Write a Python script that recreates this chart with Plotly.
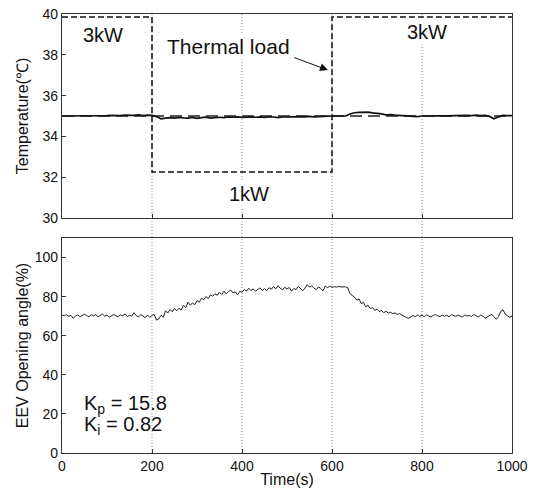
import plotly.graph_objects as go

# ---- data ----
time_temp = list(range(0, 1001, 10))
temperature = [
    35.0, 35.0, 35.01, 34.99, 35.0, 35.01, 35.0, 35.02, 35.01, 35.0,
    35.02, 35.03, 35.01, 35.02, 35.04, 35.02, 35.03, 35.05, 35.02, 35.04,
    35.03, 34.97, 34.86, 34.9, 34.92, 34.9, 34.93, 34.91, 34.9, 34.93,
    34.88, 34.92, 34.94, 34.9, 34.93, 34.94, 34.92, 34.95, 34.94, 34.96,
    34.93, 34.95, 34.96, 34.94, 34.96, 34.93, 34.96, 34.95, 34.92, 34.95,
    34.96, 34.97, 34.95, 34.97, 34.96, 34.98, 34.96, 34.98, 34.97, 34.99,
    35.0, 35.0, 35.01, 35.0, 35.1, 35.16, 35.18, 35.2, 35.19, 35.15,
    35.14, 35.1, 35.06, 35.07, 35.04, 35.03, 35.0, 34.98, 35.0, 34.97,
    35.0, 34.99, 35.0, 35.01, 35.0, 35.02, 35.01, 35.02, 35.03, 35.01,
    35.03, 35.02, 35.04, 35.02, 35.03, 34.98, 34.86, 34.96, 35.03, 35.02,
    35.02,
]
setpoint_time = [0, 1000]
setpoint = [35.0, 35.0]

load_time = [0, 200, 200, 600, 600, 1000]
load_level = [39.85, 39.85, 32.25, 32.25, 39.85, 39.85]

time_eev = list(range(0, 1001, 5))
eev_pct = [
    70.6, 70.2, 70.8, 69.9, 70.4, 68.9, 70.1, 70.7, 69.8, 70.5,
    71.0, 70.3, 69.6, 70.9, 70.2, 70.8, 69.7, 70.4, 71.1, 70.0,
    70.6, 69.5, 70.3, 70.9, 70.1, 69.8, 70.7, 70.2, 71.2, 69.9,
    70.5, 70.0, 71.8, 70.3, 69.6, 70.8, 70.1, 69.2, 70.6, 69.4,
    70.5,
    70.8, 68.0, 68.6, 70.5, 69.4, 72.8, 71.6, 73.5, 72.2, 73.9,
    72.8, 74.1, 73.2, 75.6, 74.3, 77.2, 75.6, 76.8, 75.9, 78.0,
    77.1, 79.2, 78.4, 80.1, 79.0, 80.8, 80.2, 81.5, 80.7, 82.3,
    81.1, 82.8, 81.4, 82.6, 83.4, 81.9, 82.5, 80.9, 82.7, 82.2,
    83.6, 82.9, 84.3, 83.1, 84.0, 82.8, 83.7, 84.5, 83.2, 84.1,
    83.0, 84.6, 83.8, 85.2, 84.0, 85.6, 84.3, 83.5, 84.8, 83.9,
    84.7, 82.8, 84.2, 83.6, 85.3, 84.1, 83.0, 84.4, 86.2, 84.9,
    85.5, 84.3, 83.6, 85.0, 84.2, 82.9, 85.4, 84.6, 85.3, 84.8,
    85.1, 84.9, 85.2, 85.0, 85.1, 85.0, 84.6, 81.5, 80.6, 79.8,
    78.2, 78.9, 76.4, 77.1, 74.8, 75.6, 73.9, 74.4, 73.0, 73.6,
    72.4, 72.9, 71.8, 72.5, 71.6, 72.0, 71.3, 71.7, 70.9, 71.4,
    70.6, 70.2, 69.4, 68.9, 69.8, 70.4, 69.7, 70.6, 69.9, 70.5,
    69.8, 70.7, 70.1, 69.6, 70.4, 70.9, 70.2, 69.8, 70.6, 70.0,
    70.5, 69.7, 70.8, 70.3, 69.9, 70.6, 70.2, 69.5, 70.7, 70.1,
    70.4, 69.8, 70.9, 70.2, 69.6, 70.5, 70.1, 68.9, 69.5, 70.4,
    71.0, 69.7, 68.4, 69.8, 72.4, 73.3, 71.0, 70.2, 69.4, 70.1,
]

x_ticks = [0, 200, 400, 600, 800, 1000]
temp_ticks = [30, 32, 34, 36, 38, 40]
eev_ticks = [0, 20, 40, 60, 80, 100]
grid_times = [200, 400, 600, 800]

FONT = "Liberation Sans, Arial, sans-serif"

fig = go.Figure()

fig.add_trace(go.Scatter(x=setpoint_time, y=setpoint, mode="lines",
                         line=dict(color="#222", width=1.4, dash="12px,6px"),
                         xaxis="x", yaxis="y", showlegend=False))
fig.add_trace(go.Scatter(x=time_temp, y=temperature, mode="lines",
                         line=dict(color="#111", width=1.7),
                         xaxis="x", yaxis="y", showlegend=False))
fig.add_trace(go.Scatter(x=load_time, y=load_level, mode="lines",
                         line=dict(color="#111", width=1.5, dash="6px,3px"),
                         xaxis="x", yaxis="y", showlegend=False))
fig.add_trace(go.Scatter(x=time_eev, y=eev_pct, mode="lines",
                         line=dict(color="#222", width=1),
                         xaxis="x2", yaxis="y2", showlegend=False))

shapes = []
for t in grid_times:
    shapes.append(dict(type="line", xref="x", yref="paper", x0=t, x1=t, y0=0, y1=1,
                       line=dict(color="#999", width=1, dash="1px,2px"), layer="below"))
fig.update_layout(shapes=shapes)

axis_common = dict(showline=True, linecolor="#333", linewidth=1.2, mirror=True,
                   ticks="inside", ticklen=4, tickcolor="#333", showgrid=False,
                   zeroline=False, automargin=False,
                   tickfont=dict(family=FONT, size=14, color="#111"))

fig.update_layout(
    width=535, height=489,
    margin=dict(l=62, r=23, t=14, b=36),
    paper_bgcolor="white", plot_bgcolor="white",
    font=dict(family=FONT, color="#111"),
    xaxis=dict(domain=[0, 1], range=[0, 1000], tickvals=x_ticks, showticklabels=False,
               anchor="y", **axis_common),
    yaxis=dict(domain=[0.5353, 1], range=[30, 40], tickvals=temp_ticks, anchor="x",
               title=dict(text="Temperature(℃)", font=dict(family=FONT, size=16), standoff=9),
               **axis_common),
    xaxis2=dict(domain=[0, 1], range=[0, 1000], tickvals=x_ticks, anchor="y2",
                title=dict(text="Time(s)", font=dict(family=FONT, size=16), standoff=0),
                **axis_common),
    yaxis2=dict(domain=[0, 0.4897], range=[0, 110], tickvals=eev_ticks, anchor="x2",
                title=dict(text="EEV Opening angle(%)", font=dict(family=FONT, size=16), standoff=2),
                **axis_common),
)

ann_font = dict(family=FONT, size=20, color="#111")
annotations = [
    dict(x=91, y=38.97, xref="x", yref="y", text="3kW", showarrow=False,
         font=ann_font, bgcolor="white"),
    dict(x=811, y=39.1, xref="x", yref="y", text="3kW", showarrow=False,
         font=ann_font, bgcolor="white"),
    dict(x=415, y=31.2, xref="x", yref="y", text="1kW", showarrow=False,
         font=ann_font, bgcolor="white"),
    dict(x=371, y=38.4, xref="x", yref="y", text="Thermal load", showarrow=False,
         font=dict(family=FONT, size=21, color="#111"), bgcolor="white"),
    dict(x=591, y=37.25, xref="x", yref="y", ax=513, ay=37.89, axref="x", ayref="y",
         text="", showarrow=True, arrowhead=2, arrowsize=1.6, arrowwidth=1,
         arrowcolor="#111"),
    dict(x=44, y=24.8, xref="x2", yref="y2", text="K<sub>p</sub> = 15.8", showarrow=False,
         xanchor="left", font=dict(family=FONT, size=20, color="#111")),
    dict(x=44, y=14.0, xref="x2", yref="y2", text="K<sub>i</sub> = 0.82", showarrow=False,
         xanchor="left", font=dict(family=FONT, size=20, color="#111")),
]
fig.update_layout(annotations=annotations)

fig.write_html("out.html", config={"displayModeBar": False},
               post_script="document.body.style.margin='0';document.body.style.padding='0';")
